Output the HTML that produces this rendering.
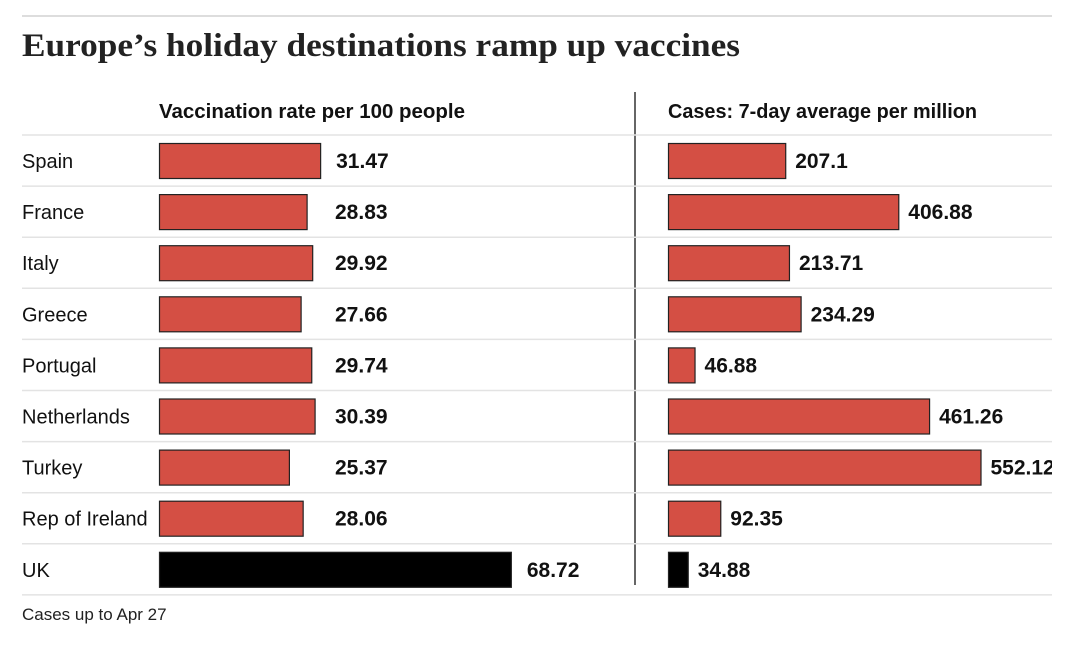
<!DOCTYPE html>
<html><head><meta charset="utf-8"><style>
html,body{margin:0;padding:0;background:#fff;width:1080px;height:647px;overflow:hidden}
svg{display:block}
.t{font-family:"Liberation Serif",serif;font-weight:bold;font-size:33px;fill:#222}
.h{font-family:"Liberation Sans Narrow","Liberation Sans",sans-serif;font-weight:bold;font-size:20px;fill:#111}
.l{font-family:"Liberation Sans Narrow","Liberation Sans",sans-serif;font-size:20px;fill:#111}
.v{font-family:"Liberation Sans Narrow","Liberation Sans",sans-serif;font-weight:bold;font-size:21px;fill:#111}
.f{font-family:"Liberation Sans Narrow","Liberation Sans",sans-serif;font-size:17px;fill:#222}
</style></head><body>
<svg id="c" width="1080" height="647">
<defs><clipPath id="cl"><rect x="0" y="0" width="1052" height="647"/></clipPath></defs>
<line x1="22" y1="16" x2="1052" y2="16" stroke="#ddd" stroke-width="2"/>
<text class="t" x="22" y="56" textLength="718" lengthAdjust="spacingAndGlyphs">Europe’s holiday destinations ramp up vaccines</text>
<text class="h" x="159" y="118" textLength="306" lengthAdjust="spacingAndGlyphs">Vaccination rate per 100 people</text>
<text class="h" x="668" y="118" textLength="309" lengthAdjust="spacingAndGlyphs">Cases: 7-day average per million</text>
<line x1="635" y1="92" x2="635" y2="585" stroke="#333" stroke-width="1.5"/>
<text class="f" x="22" y="620">Cases up to Apr 27</text>
<g id="rows"></g>
</svg>
<script>
const countries=["Spain","France","Italy","Greece","Portugal","Netherlands","Turkey","Rep of Ireland","UK"];
const vaccRates=[31.47,28.83,29.92,27.66,29.74,30.39,25.37,28.06,68.72];
const vaccLabels=["31.47","28.83","29.92","27.66","29.74","30.39","25.37","28.06","68.72"];
const cases=[207.1,406.88,213.71,234.29,46.88,461.26,552.12,92.35,34.88];
const caseLabels=["207.1","406.88","213.71","234.29","46.88","461.26","552.12","92.35","34.88"];
const NS="http://www.w3.org/2000/svg";
const g=document.getElementById('rows');
const rowY=i=>135+i*51.1;
const xV=v=>159+v*5.12;
const xC=v=>668+v*0.566;
function mk(tag,attrs,txt){const e=document.createElementNS(NS,tag);for(const k in attrs)e.setAttribute(k,attrs[k]);if(txt!==undefined)e.textContent=txt;g.appendChild(e);return e;}
for(let i=0;i<countries.length;i++){
  const y=rowY(i);
  const ln=mk('line',{x1:22,y1:y,x2:1052,y2:y,stroke:'#e3e3e3','stroke-width':1.5});
  
  
  const uk=countries[i]==="UK";
  const fill=uk?'#000':'#d44f44';
  const lab=mk('text',{class:'l',x:22,y:y+33},countries[i]);
  
  
  const e1=xV(vaccRates[i]);
  const b1=mk('rect',{x:159.5,y:y+8.5,width:e1-159,height:35,fill:fill,stroke:'#222','stroke-width':1.2});
  
  
  const t1=mk('text',{class:'v',x:Math.max(e1+16,335),y:y+33},vaccLabels[i]);
  
  
  const e2=xC(cases[i]);
  const b2=mk('rect',{x:668.5,y:y+8.5,width:e2-668,height:35,fill:fill,stroke:'#222','stroke-width':1.2});
  
  
  const t2=mk('text',{class:'v',x:e2+10,y:y+33,'clip-path':'url(#cl)'},caseLabels[i]);
  
  
}
const yb=rowY(countries.length);
const lb=mk('line',{x1:22,y1:yb,x2:1052,y2:yb,stroke:'#e3e3e3','stroke-width':1.5});


</script>
</body></html>
